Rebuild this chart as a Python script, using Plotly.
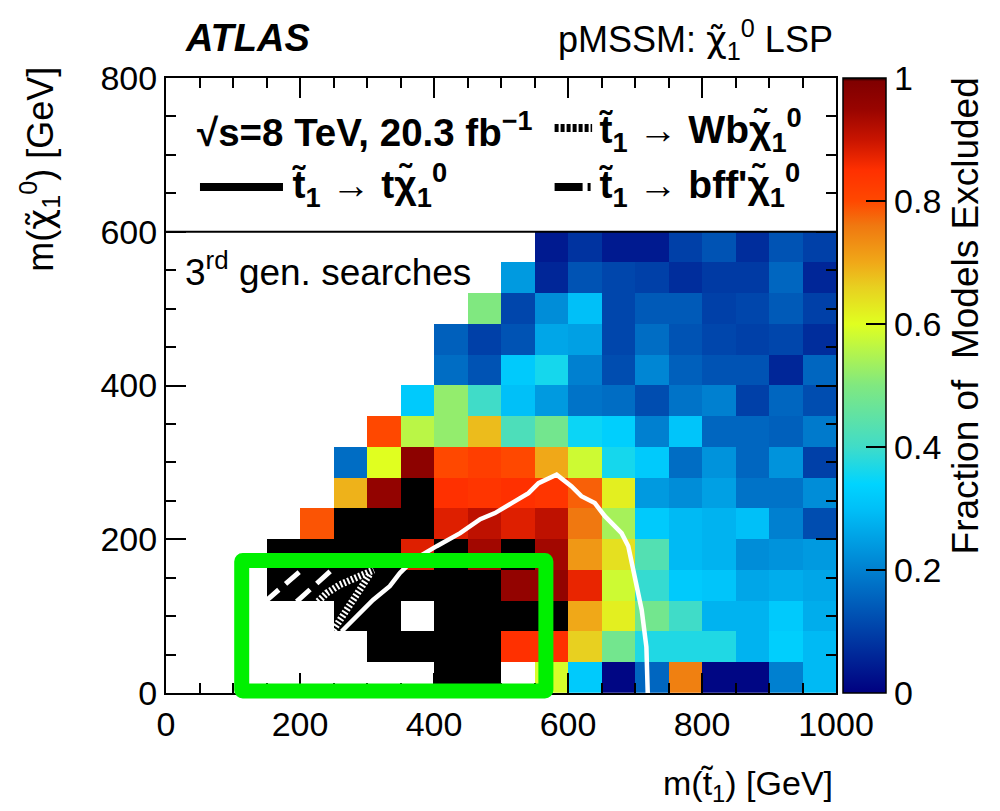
import plotly.graph_objects as go

N = None

# ---- binning (bin centres, GeV) ----
stop_mass = [25, 75, 125, 175, 225, 275, 325, 375, 425, 475,
             525, 575, 625, 675, 725, 775, 825, 875, 925, 975]
lsp_mass = [20, 60, 100, 140, 180, 220, 260, 300, 340, 380,
            420, 460, 500, 540, 580]

# ---- fraction of models excluded, one list per LSP-mass row ----
frac_000_040 = [N, N, N, N, N, N, N, N, 1.0, 1.0, N, 0.59, 0.32, 0.01, 0.16, 0.75, 0.01, 0.01, 0.20, 0.29]
frac_040_080 = [N, N, N, N, N, N, 1.0, 1.0, 1.0, 1.0, 0.85, 0.85, 0.66, 0.48, 0.37, 0.37, 0.37, 0.28, 0.33, 0.29]
frac_080_120 = [N, N, N, N, N, 1.0, 1.0, N, 1.0, 1.0, 1.0, 1.0, 0.70, 0.62, 0.48, 0.40, 0.28, 0.28, 0.32, 0.27]
frac_120_160 = [N, N, N, 1.0, 1.0, 1.0, 1.0, 1.0, 1.0, 1.0, 0.96, 0.96, 0.87, 0.58, 0.39, 0.32, 0.31, 0.26, 0.27, 0.26]
frac_160_200 = [N, N, N, 1.0, 1.0, 1.0, 1.0, 0.88, 1.0, 0.94, 1.0, 0.94, 0.72, 0.64, 0.43, 0.29, 0.28, 0.22, 0.23, 0.24]
frac_200_240 = [N, N, N, N, 0.79, 1.0, 1.0, 1.0, 0.88, 0.91, 0.88, 0.91, 0.76, 0.54, 0.32, 0.29, 0.28, 0.30, 0.20, 0.12]
frac_240_280 = [N, N, N, N, N, 0.69, 0.96, 1.0, 0.85, 0.84, 0.85, 0.84, 0.78, 0.62, 0.24, 0.22, 0.25, 0.18, 0.18, 0.22]
frac_280_320 = [N, N, N, N, N, 0.17, 0.60, 0.97, 0.80, 0.82, 0.80, 0.70, 0.58, 0.36, 0.32, 0.17, 0.23, 0.16, 0.23, 0.10]
frac_320_360 = [N, N, N, N, N, N, 0.80, 0.56, 0.52, 0.68, 0.42, 0.48, 0.35, 0.33, 0.20, 0.31, 0.16, 0.16, 0.15, 0.19]
frac_360_400 = [N, N, N, N, N, N, N, 0.32, 0.52, 0.40, 0.30, 0.24, 0.18, 0.17, 0.12, 0.18, 0.20, 0.10, 0.16, 0.12]
frac_400_440 = [N, N, N, N, N, N, N, N, 0.17, 0.13, 0.32, 0.36, 0.20, 0.12, 0.21, 0.15, 0.13, 0.13, 0.06, 0.16]
frac_440_480 = [N, N, N, N, N, N, N, N, 0.15, 0.10, 0.13, 0.26, 0.25, 0.11, 0.17, 0.13, 0.11, 0.10, 0.11, 0.07]
frac_480_520 = [N, N, N, N, N, N, N, N, N, 0.50, 0.11, 0.22, 0.30, 0.11, 0.14, 0.14, 0.10, 0.11, 0.14, 0.10]
frac_520_560 = [N, N, N, N, N, N, N, N, N, N, 0.24, 0.06, 0.13, 0.11, 0.10, 0.07, 0.09, 0.09, 0.16, 0.06]
frac_560_600 = [N, N, N, N, N, N, N, N, N, N, N, 0.04, 0.08, 0.04, 0.04, 0.10, 0.13, 0.07, 0.13, 0.10]

# ---- exclusion contours ----
tt_x = [719, 717, 710, 700, 690, 680, 655, 640, 620, 605, 583, 556, 541, 516, 491, 469, 439, 404, 369, 349, 334, 309, 290, 270, 262]
tt_y = [0, 60, 108, 152, 191, 208, 230, 247, 256, 269, 284, 273, 260, 247, 234, 226, 208, 191, 173, 156, 139, 121, 104, 86, 80]

bff_a_x = [148, 205]
bff_a_y = [119, 162]
bff_b_x = [195, 250]
bff_b_y = [119, 162]

wb_a_x = [227, 240, 260, 285, 310]
wb_a_y = [119, 130, 141, 151, 160]
wb_b_x = [250, 262, 272, 280, 292, 305]
wb_b_y = [82, 99, 112, 125, 138, 156]

cbar_ticks = [0, 0.2, 0.4, 0.6, 0.8, 1.0]
cbar_labels = ["0", "0.2", "0.4", "0.6", "0.8", "1"]

FONT = "Liberation Sans, Arial, Helvetica, sans-serif"

colorscale = [
    [0.00, "#000080"], [0.10, "#0040a8"], [0.20, "#0080d0"], [0.30, "#00c0f8"],
    [0.34, "#00d4ff"], [0.40, "#40dcc8"], [0.50, "#80e880"], [0.60, "#e0ff20"],
    [0.66, "#e8d020"], [0.70, "#f0a818"], [0.76, "#f07810"], [0.80, "#ff4800"],
    [0.85, "#ff3000"], [0.90, "#c81400"], [0.95, "#980400"], [0.995, "#800000"],
    [1.00, "#000000"],
]

z = [frac_000_040, frac_040_080, frac_080_120, frac_120_160, frac_160_200,
     frac_200_240, frac_240_280, frac_280_320, frac_320_360, frac_360_400,
     frac_400_440, frac_440_480, frac_480_520, frac_520_560, frac_560_600]

fig = go.Figure()
fig.add_trace(go.Heatmap(
    x=stop_mass, y=lsp_mass, z=z, zmin=0, zmax=1, colorscale=colorscale,
    hoverongaps=False,
    colorbar=dict(
        x=1.0104, xanchor="left", xref="paper", xpad=0, ypad=0,
        y=0.5, yanchor="middle", len=1.0, lenmode="fraction",
        thickness=43, thicknessmode="pixels",
        outlinewidth=1.5, outlinecolor="black",
        ticks="inside", ticklen=20, tickwidth=2, tickcolor="black",
        tickvals=cbar_ticks, ticktext=cbar_labels,
        tickfont=dict(family=FONT, size=34, color="black"),
    ),
))

fig.add_trace(go.Scatter(x=tt_x, y=tt_y, mode="lines",
                         line=dict(color="white", width=4.5), showlegend=False, hoverinfo="skip"))
for xs, ys in [(bff_a_x, bff_a_y), (bff_b_x, bff_b_y)]:
    fig.add_trace(go.Scatter(x=xs, y=ys, mode="lines",
                             line=dict(color="white", width=5, dash="18px,9px"),
                             showlegend=False, hoverinfo="skip"))
for xs, ys in [(wb_a_x, wb_a_y), (wb_b_x, wb_b_y)]:
    fig.add_trace(go.Scatter(x=xs, y=ys, mode="lines",
                             line=dict(color="white", width=7, dash="2px,2px"),
                             showlegend=False, hoverinfo="skip"))

axis_common = dict(
    ticks="inside", ticklen=20, tickwidth=2, tickcolor="black",
    showline=True, linecolor="black", linewidth=2, mirror="allticks",
    showgrid=False, zeroline=False,
    tickfont=dict(family=FONT, size=34, color="black"),
    minor=dict(ticks="inside", ticklen=10, tickwidth=2, tickcolor="black", dtick=50, showgrid=False),
)
fig.update_xaxes(range=[0, 1000], tick0=0, dtick=200, **axis_common)
fig.update_yaxes(range=[0, 800], tick0=0, dtick=200, **axis_common)

# legend box separator
shapes = [dict(type="line", xref="paper", yref="y", x0=0, x1=1, y0=600, y1=600,
               line=dict(color="black", width=2))]
# legend samples
shapes.append(dict(type="line", xref="paper", yref="paper", x0=0.0507, x1=0.1746, y0=0.8228, y1=0.8228,
                   line=dict(color="black", width=8)))
shapes.append(dict(type="line", xref="paper", yref="paper", x0=0.580, x1=0.636, y0=0.9187, y1=0.9187,
                   line=dict(color="black", width=8, dash="4px,2px")))
shapes.append(dict(type="line", xref="paper", yref="paper", x0=0.580, x1=0.636, y0=0.8228, y1=0.8228,
                   line=dict(color="black", width=8, dash="28px,5px,3px,40px")))
# green highlight box (rounded corners)
gx0, gx1, gy0, gy1 = 0.113, 0.567, 0.00325, 0.2154
rx, ry = 0.0015, 0.0016
path = (f"M {gx0+rx},{gy0} L {gx1-rx},{gy0} Q {gx1},{gy0} {gx1},{gy0+ry} "
        f"L {gx1},{gy1-ry} Q {gx1},{gy1} {gx1-rx},{gy1} "
        f"L {gx0+rx},{gy1} Q {gx0},{gy1} {gx0},{gy1-ry} "
        f"L {gx0},{gy0+ry} Q {gx0},{gy0} {gx0+rx},{gy0} Z")
shapes.append(dict(type="path", xref="paper", yref="paper", path=path,
                   line=dict(color="#00f000", width=15), fillcolor="rgba(0,0,0,0)"))

chi = "<span style=\"font-family:'DejaVu Sans'\">\u03c7\u0303</span>"
chib = "\u03c7\u0303"
stop = "t\u0303"

ann = []
def A(text, x, y, xanchor="left", yanchor="middle", size=36, angle=0):
    ann.append(dict(text=text, x=x, y=y, xref="paper", yref="paper", xanchor=xanchor, yanchor=yanchor,
                    showarrow=False, textangle=angle, font=dict(family=FONT, size=size, color="black")))

A("<b><i>ATLAS</i></b>", 0.0254, 1.065, size=38)
A(f"pMSSM: {chi}<sub>1</sub><sup>0</sup> LSP", 0.9985, 1.062, xanchor="right", size=36)
A("<b>\u221as=8 TeV, 20.3 fb<sup>\u22121</sup></b>", 0.0433, 0.9154, size=38.5)
A(f"<b>{stop}<sub>1</sub> \u2192 Wb{chib}<sub>1</sub><sup>0</sup></b>", 0.643, 0.9154, size=39)
A(f"<b>{stop}<sub>1</sub> \u2192 t{chib}<sub>1</sub><sup>0</sup></b>", 0.185, 0.826, size=39)
A(f"<b>{stop}<sub>1</sub> \u2192 bff'{chib}<sub>1</sub><sup>0</sup></b>", 0.643, 0.826, size=39)
A("3<sup>rd</sup> gen. searches", 0.0254, 0.688, size=37)
A(f"m({stop}<sub>1</sub>) [GeV]", 0.9985, -0.1496, xanchor="right", size=34)
A(f"m({chi}<sub>1</sub><sup>0</sup>) [GeV]", -0.188, 1.021, xanchor="center", yanchor="top", size=36, angle=-90)
A("Fraction of \u00a0Models Excluded", 1.1925, 1.005, xanchor="center", yanchor="top", size=37, angle=-90)

# page body has an 8px margin: shift the figure so that the plot area lands at the reference pixels
fig.update_layout(
    width=992, height=803,
    margin=dict(l=158, r=164, t=70, b=118, autoexpand=False),
    paper_bgcolor="white", plot_bgcolor="white",
    font=dict(family=FONT, color="black"),
    shapes=shapes, annotations=ann, showlegend=False,
)

fig.write_html("out.html")
